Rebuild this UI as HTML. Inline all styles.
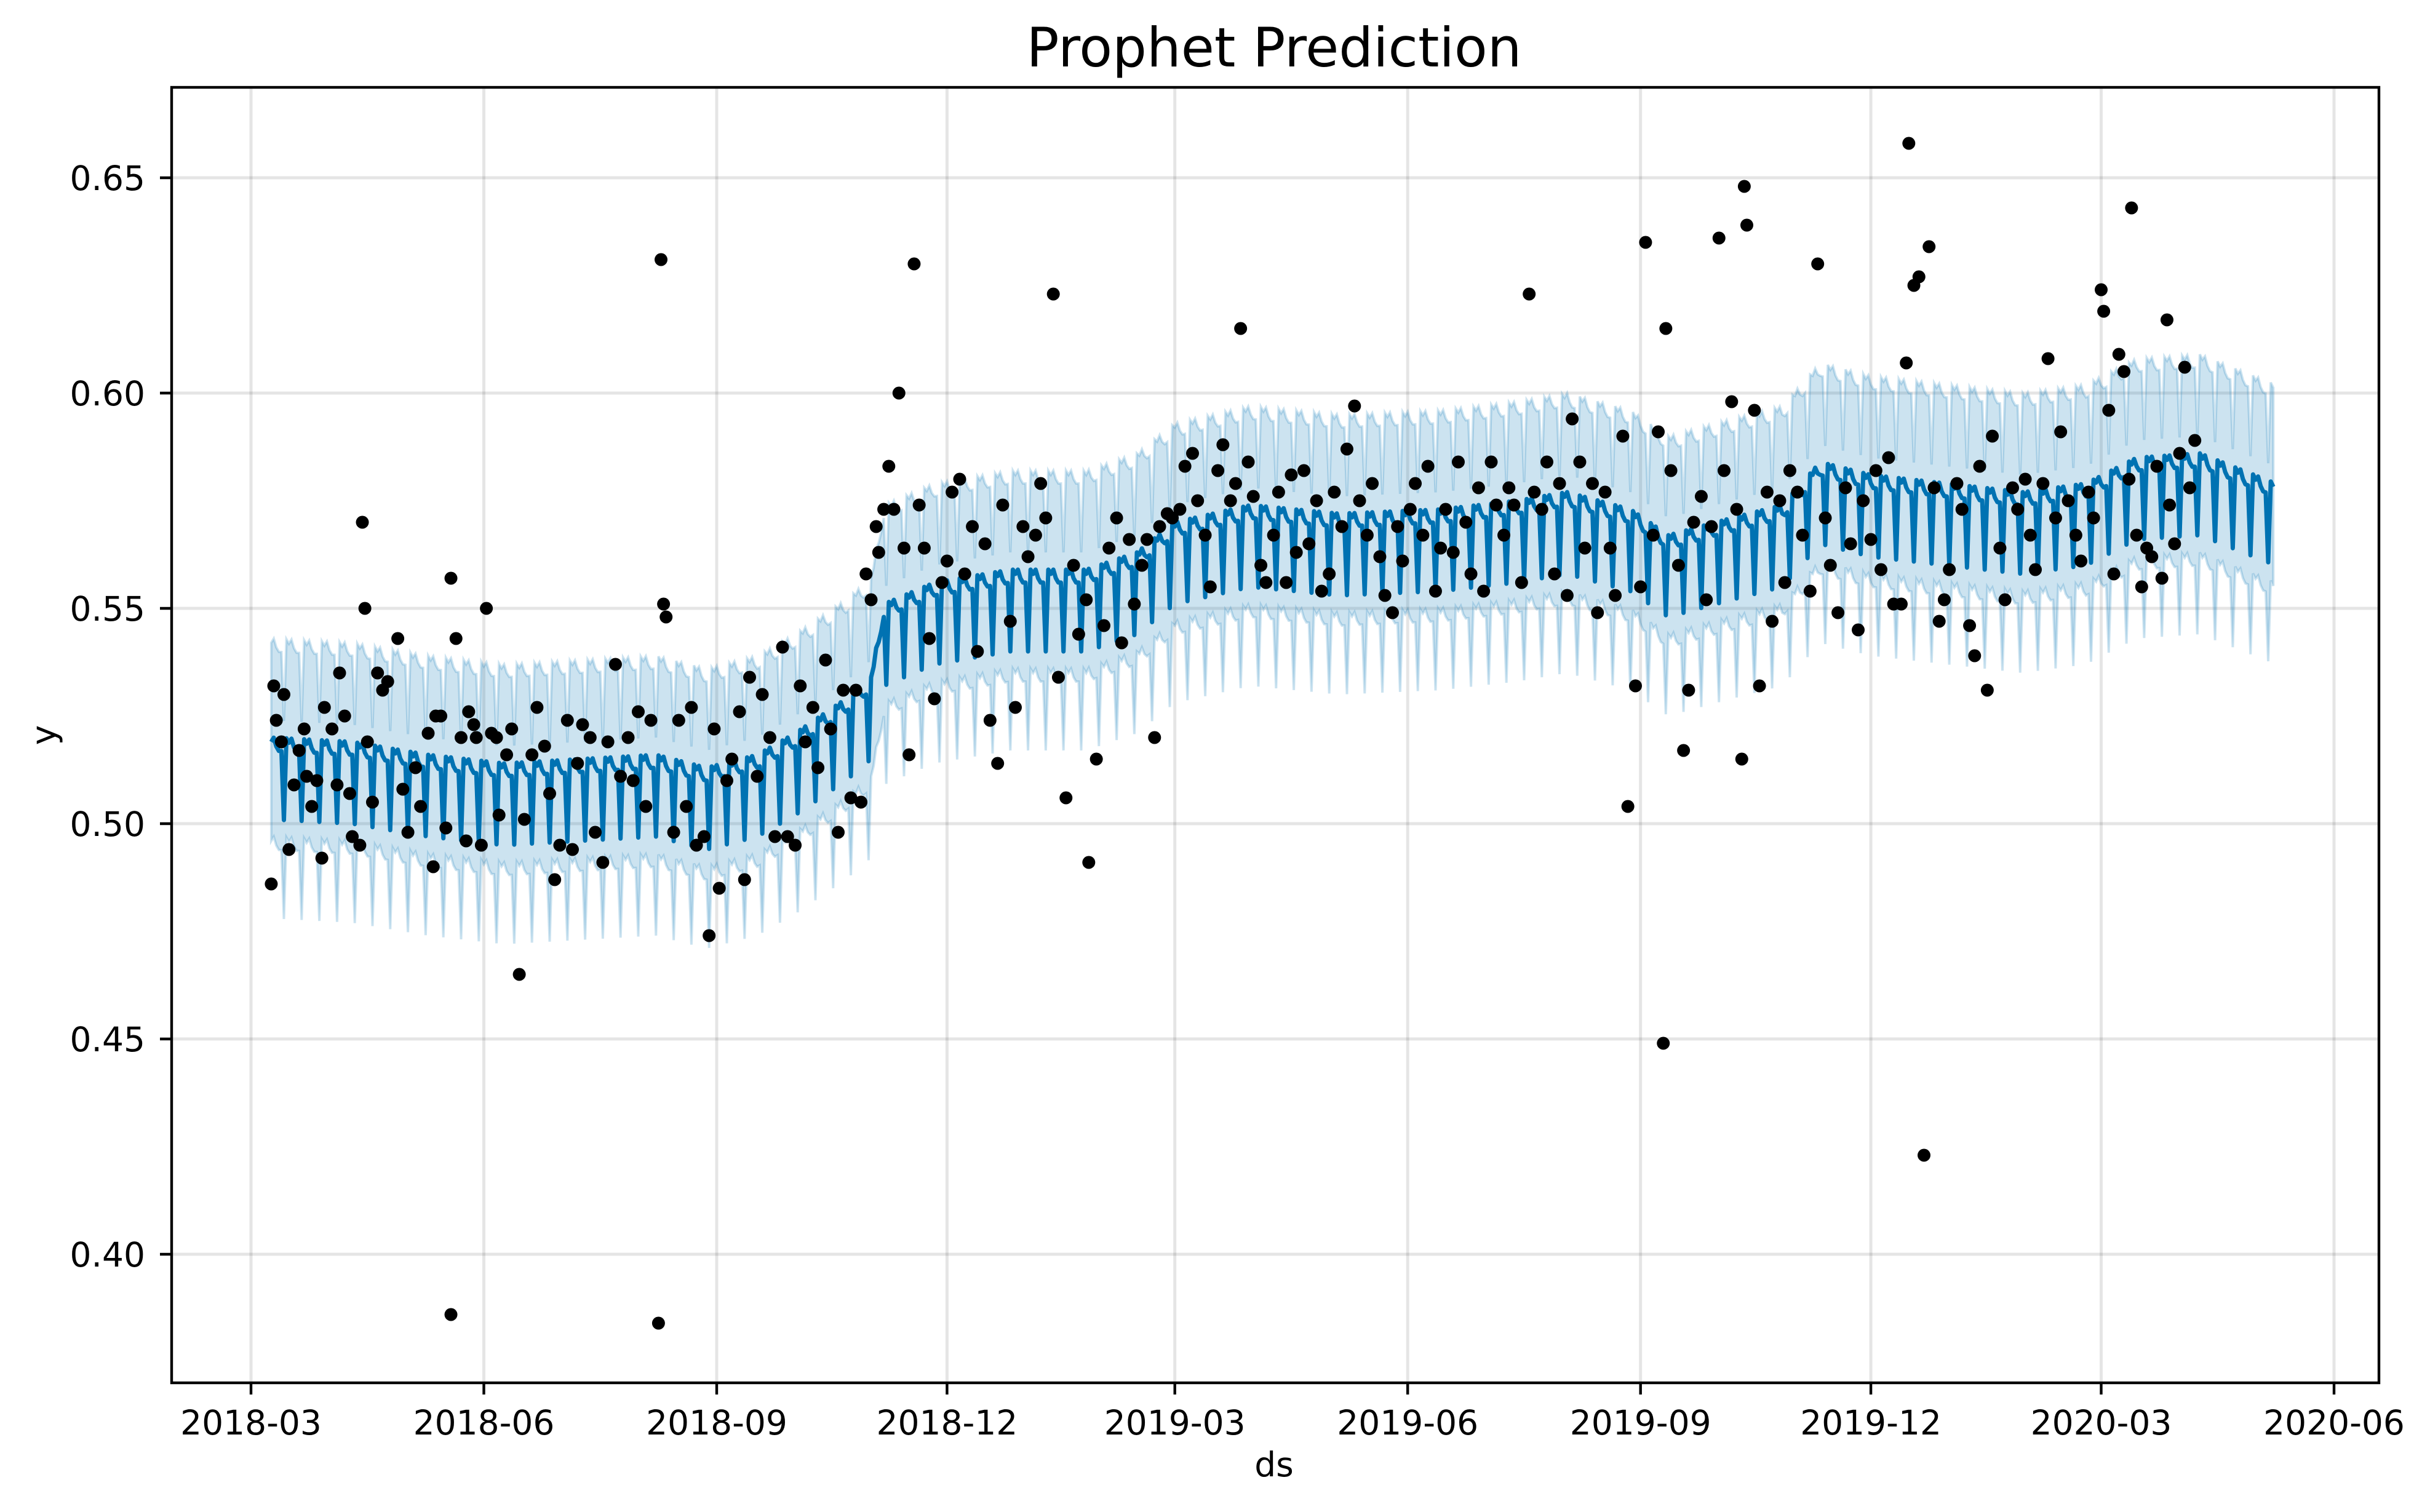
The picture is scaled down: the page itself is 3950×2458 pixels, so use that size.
<!DOCTYPE html>
<html><head><meta charset="utf-8"><style>
html,body{margin:0;padding:0;background:#fff;}
svg{display:block;font-family:"DejaVu Sans","Liberation Sans",sans-serif;}
</style></head><body>
<svg id="chart" width="3950" height="2458" viewBox="0 0 3950 2458" xmlns="http://www.w3.org/2000/svg">
<rect width="3950" height="2458" fill="#fff"/>
<g id="grid"></g>
<g id="band"></g>
<g id="line"></g>
<g id="pts"></g>
<g id="axes"></g>
<text x="2071" y="108" font-size="88" text-anchor="middle">Prophet Prediction</text>
<text x="2071" y="2400" font-size="55" text-anchor="middle">ds</text>
<text x="90" y="1195" font-size="55" text-anchor="middle" transform="rotate(-90 90 1195)">y</text>
</svg>
<script>
// days since 2018-03-01
const xTickDays = [0, 92, 184, 275, 365, 457, 549, 640, 731, 823];
const xTickLabels = ["2018-03","2018-06","2018-09","2018-12","2019-03","2019-06","2019-09","2019-12","2020-03","2020-06"];
const yTicks = [0.40, 0.45, 0.50, 0.55, 0.60, 0.65];
const yTickLabels = ["0.40","0.45","0.50","0.55","0.60","0.65"];
const trendDays = [8,40,70,100,130,160,180,200,215,235,245,250,270,300,330,350,365,395,430,470,500,520,545,560,585,605,620,640,670,700,725,745,770,800];
const trendVals = [0.516,0.515,0.512,0.510,0.511,0.512,0.509,0.512,0.517,0.525,0.530,0.547,0.552,0.555,0.555,0.559,0.566,0.570,0.568,0.569,0.571,0.573,0.569,0.563,0.567,0.570,0.580,0.577,0.575,0.573,0.575,0.581,0.582,0.575];
const weekly = [0.004,0.003,0.004,0.002,0.001,0.001,-0.015];
const bandHalf = 0.023;
const obsDays = [8,9,10,12,13,15,17,19,21,22,24,26,28,29,32,34,35,37,39,40,43,44,45,46,48,50,52,54,58,60,62,65,67,70,72,73,75,77,79,81,79,83,85,86,88,89,91,93,95,97,98,101,103,106,108,111,113,116,118,120,122,125,127,129,131,134,136,139,141,144,146,149,151,153,156,158,161,162,163,164,167,169,172,174,176,179,181,183,185,188,190,193,195,197,200,202,205,207,210,212,215,217,219,222,224,227,229,232,234,237,239,241,243,245,247,248,250,252,254,256,258,260,262,264,266,268,270,273,275,277,280,282,285,287,290,292,295,297,300,302,305,307,310,312,314,317,319,322,325,327,330,331,334,337,339,342,344,347,349,352,354,357,359,362,364,367,369,372,374,377,379,382,384,387,389,391,394,396,399,401,404,406,409,411,413,416,418,421,423,426,428,431,433,436,438,441,443,446,448,451,453,455,458,460,463,465,468,470,472,475,477,480,482,485,487,490,492,495,497,499,502,505,507,510,512,515,517,520,522,525,527,530,532,535,537,539,542,544,547,549,551,554,556,558,559,561,564,566,568,570,573,575,577,580,582,585,587,589,590,591,594,596,599,601,604,606,608,611,613,616,619,622,624,627,630,632,635,637,640,642,644,647,649,652,654,655,657,659,661,663,665,667,669,671,674,676,679,681,683,686,688,691,693,696,698,701,703,705,708,710,713,715,718,721,723,726,728,731,732,734,736,738,740,742,743,745,747,749,751,753,755,757,758,760,762,764,766,768];
const obsVals = [0.486,0.532,0.524,0.519,0.530,0.494,0.509,0.517,0.522,0.511,0.504,0.510,0.492,0.527,0.522,0.509,0.535,0.525,0.507,0.497,0.495,0.570,0.550,0.519,0.505,0.535,0.531,0.533,0.543,0.508,0.498,0.513,0.504,0.521,0.490,0.525,0.525,0.499,0.557,0.543,0.386,0.520,0.496,0.526,0.523,0.520,0.495,0.550,0.521,0.520,0.502,0.516,0.522,0.465,0.501,0.516,0.527,0.518,0.507,0.487,0.495,0.524,0.494,0.514,0.523,0.520,0.498,0.491,0.519,0.537,0.511,0.520,0.510,0.526,0.504,0.524,0.384,0.631,0.551,0.548,0.498,0.524,0.504,0.527,0.495,0.497,0.474,0.522,0.485,0.510,0.515,0.526,0.487,0.534,0.511,0.530,0.520,0.497,0.541,0.497,0.495,0.532,0.519,0.527,0.513,0.538,0.522,0.498,0.531,0.506,0.531,0.505,0.558,0.552,0.569,0.563,0.573,0.583,0.573,0.600,0.564,0.516,0.630,0.574,0.564,0.543,0.529,0.556,0.561,0.577,0.580,0.558,0.569,0.540,0.565,0.524,0.514,0.574,0.547,0.527,0.569,0.562,0.567,0.579,0.571,0.623,0.534,0.506,0.560,0.544,0.552,0.491,0.515,0.546,0.564,0.571,0.542,0.566,0.551,0.560,0.566,0.520,0.569,0.572,0.571,0.573,0.583,0.586,0.575,0.567,0.555,0.582,0.588,0.575,0.579,0.615,0.584,0.576,0.560,0.556,0.567,0.577,0.556,0.581,0.563,0.582,0.565,0.575,0.554,0.558,0.577,0.569,0.587,0.597,0.575,0.567,0.579,0.562,0.553,0.549,0.569,0.561,0.573,0.579,0.567,0.583,0.554,0.564,0.573,0.563,0.584,0.570,0.558,0.578,0.554,0.584,0.574,0.567,0.578,0.574,0.556,0.623,0.577,0.573,0.584,0.558,0.579,0.553,0.594,0.584,0.564,0.579,0.549,0.577,0.564,0.553,0.590,0.504,0.532,0.555,0.635,0.567,0.591,0.449,0.615,0.582,0.560,0.517,0.531,0.570,0.576,0.552,0.569,0.636,0.582,0.598,0.573,0.515,0.648,0.639,0.596,0.532,0.577,0.547,0.575,0.556,0.582,0.577,0.567,0.554,0.630,0.571,0.560,0.549,0.578,0.565,0.545,0.575,0.566,0.582,0.559,0.585,0.551,0.551,0.607,0.658,0.625,0.627,0.423,0.634,0.578,0.547,0.552,0.559,0.579,0.573,0.546,0.539,0.583,0.531,0.590,0.564,0.552,0.578,0.573,0.580,0.567,0.559,0.579,0.608,0.571,0.591,0.575,0.567,0.561,0.577,0.571,0.624,0.619,0.596,0.558,0.609,0.605,0.580,0.643,0.567,0.555,0.564,0.562,0.583,0.557,0.617,0.574,0.565,0.586,0.606,0.578,0.589];
const fcStart = 8, fcEnd = 799;

const L=279, R=3867, T=142, B=2248;
const X0=408, PXD=(3794-408)/823;
function xs(d){return X0+d*PXD;}
function ys(v){return 289+(0.65-v)*7000;}
const NS="http://www.w3.org/2000/svg";
function mk(tag, attrs, parent){const e=document.createElementNS(NS,tag);for(const k in attrs)e.setAttribute(k,attrs[k]);parent.appendChild(e);return e;}
function trendAt(d){
  if(d<=trendDays[0])return trendVals[0];
  for(let i=1;i<trendDays.length;i++){if(d<=trendDays[i]){const t=(d-trendDays[i-1])/(trendDays[i]-trendDays[i-1]);return trendVals[i-1]+t*(trendVals[i]-trendVals[i-1]);}}
  return trendVals[trendVals.length-1];
}
const grid=document.getElementById('grid');
xTickDays.forEach((d,i)=>{
  const g=mk('line',{x1:xs(d),x2:xs(d),y1:T,y2:B,stroke:'#000','stroke-opacity':0.1,'stroke-width':5},grid);
  
  
});
yTicks.forEach((v,i)=>{
  const g=mk('line',{x1:L,x2:R,y1:ys(v),y2:ys(v),stroke:'#000','stroke-opacity':0.1,'stroke-width':5},grid);
  
  
});
const yh=[],up=[],lo=[],dd=[];
for(let d=fcStart; d<=fcEnd; d++){const v=trendAt(d)+weekly[d%7];dd.push(d);yh.push(v);up.push(v+bandHalf);lo.push(v-bandHalf);}
let bp='';
for(let i=0;i<dd.length;i++)bp+=(i?'L':'M')+xs(dd[i]).toFixed(1)+','+ys(up[i]).toFixed(1);
for(let i=dd.length-1;i>=0;i--)bp+='L'+xs(dd[i]).toFixed(1)+','+ys(lo[i]).toFixed(1);
bp+='Z';
const band=document.getElementById('band');
const bf=mk('path',{d:bp,fill:'#0072B2','fill-opacity':0.2,stroke:'#0072B2','stroke-opacity':0.2,'stroke-width':4},band);


let lp='';
for(let i=0;i<dd.length;i++)lp+=(i?'L':'M')+xs(dd[i]).toFixed(1)+','+ys(yh[i]).toFixed(1);
const ln=mk('path',{d:lp,fill:'none',stroke:'#0072B2','stroke-width':7,'stroke-linejoin':'round'},document.getElementById('line'));


const pts=document.getElementById('pts');
obsDays.forEach((d,i)=>{
  const c=mk('circle',{cx:xs(d),cy:ys(obsVals[i]),r:10.5,fill:'#000'},pts);
  
  
});
const ax=document.getElementById('axes');
const fr=mk('rect',{x:L,y:T,width:R-L,height:B-T,fill:'none',stroke:'#000','stroke-width':4.4},ax);


xTickDays.forEach((d,i)=>{
  const t=mk('line',{x1:xs(d),x2:xs(d),y1:B,y2:B+19,stroke:'#000','stroke-width':4.4},ax);
  
  
  const tx=mk('text',{x:xs(d),y:2332,'font-size':55,'text-anchor':'middle'},ax);
  tx.textContent=xTickLabels[i];
  
  
});
yTicks.forEach((v,i)=>{
  const t=mk('line',{x1:L-19,x2:L,y1:ys(v),y2:ys(v),stroke:'#000','stroke-width':4.4},ax);
  
  
  const tx=mk('text',{x:236,y:ys(v)+20,'font-size':55,'text-anchor':'end'},ax);
  tx.textContent=yTickLabels[i];
  
  
});
</script>
</body></html>
